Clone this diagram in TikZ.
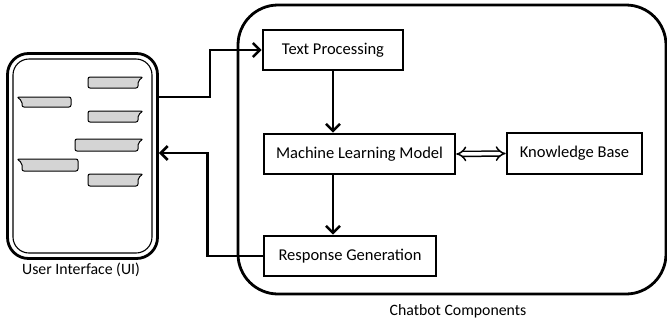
\documentclass[tikz,border=0pt]{standalone}
\usepackage{fontspec}
\setmainfont{Carlito}
\usetikzlibrary{arrows.meta}
\begin{document}
\begin{tikzpicture}[x=1pt,y=-1pt,
  box/.style={draw,line width=2.6pt,inner sep=0pt,font=\fontsize{16.5}{19}\selectfont},
  conn/.style={line width=2.6pt,-{Straight Barb[length=7pt,width=14pt]}},
  bubble/.style={draw,line width=1pt,fill=black!17,rounded corners=2pt},
  lbl/.style={font=\fontsize{15.8}{18}\selectfont}]
\useasboundingbox (0,0) rectangle (667,322);
% containers
\node[draw,line width=2.8pt,rounded corners=40pt,minimum width=428pt,minimum height=289pt] (cb) at (452,149.5) {};
\node[draw,line width=2.8pt,rounded corners=21pt,minimum width=150pt,minimum height=205pt] (ui) at (82.5,156) {};
\node[draw,line width=1.1pt,rounded corners=16pt,minimum width=139pt,minimum height=194pt] (uiin) at (82.5,156) {};
% bubbles (right tail)
\draw[bubble] (88,77) -- (143,77) -- (138,81) -- (138,88) -- (88,88) -- cycle;
\draw[bubble] (88,111) -- (143,111) -- (138,115) -- (138,122) -- (88,122) -- cycle;
\draw[bubble] (75,139) -- (143,139) -- (138,143) -- (138,151) -- (75,151) -- cycle;
\draw[bubble] (88,174) -- (143,174) -- (138,178) -- (138,186) -- (88,186) -- cycle;
% bubbles (left tail)
\draw[bubble] (71,97) -- (71,107) -- (22,107) -- (22,101) -- (17,97) -- cycle;
\draw[bubble] (78,159) -- (78,171) -- (22,171) -- (22,163) -- (17,159) -- cycle;
% boxes
\node[box,minimum width=140pt,minimum height=40pt] (tp) at (333,50) {Text Processing};
\node[box,minimum width=191pt,minimum height=40pt] (ml) at (359.5,154) {Machine Learning Model};
\node[box,minimum width=172pt,minimum height=40pt] (rg) at (350,256) {Response Generation};
\node[box,minimum width=135pt,minimum height=41pt] (kb) at (574.5,153.5) {Knowledge Base};
% labels
\node[lbl] (uil) at (81,270) {User Interface (UI)};
\node[lbl] (cbl) at (458,311) {Chatbot Components};
% connectors
\draw[conn] (ui.east |- 0,97) -- ++(51,0) |- (tp.west);
\draw[conn] (rg.west) -- ++(-55,0) |- (ui.east |- 0,153);
\draw[conn] (tp.south) -- (tp.south |- ml.north);
\draw[conn] (tp.south |- ml.south) -- (tp.south |- rg.north);
\draw[line width=1.5pt,double distance=3.5pt,{Implies}-{Implies}] (ml.east) -- (kb.west);
\end{tikzpicture}
\end{document}
